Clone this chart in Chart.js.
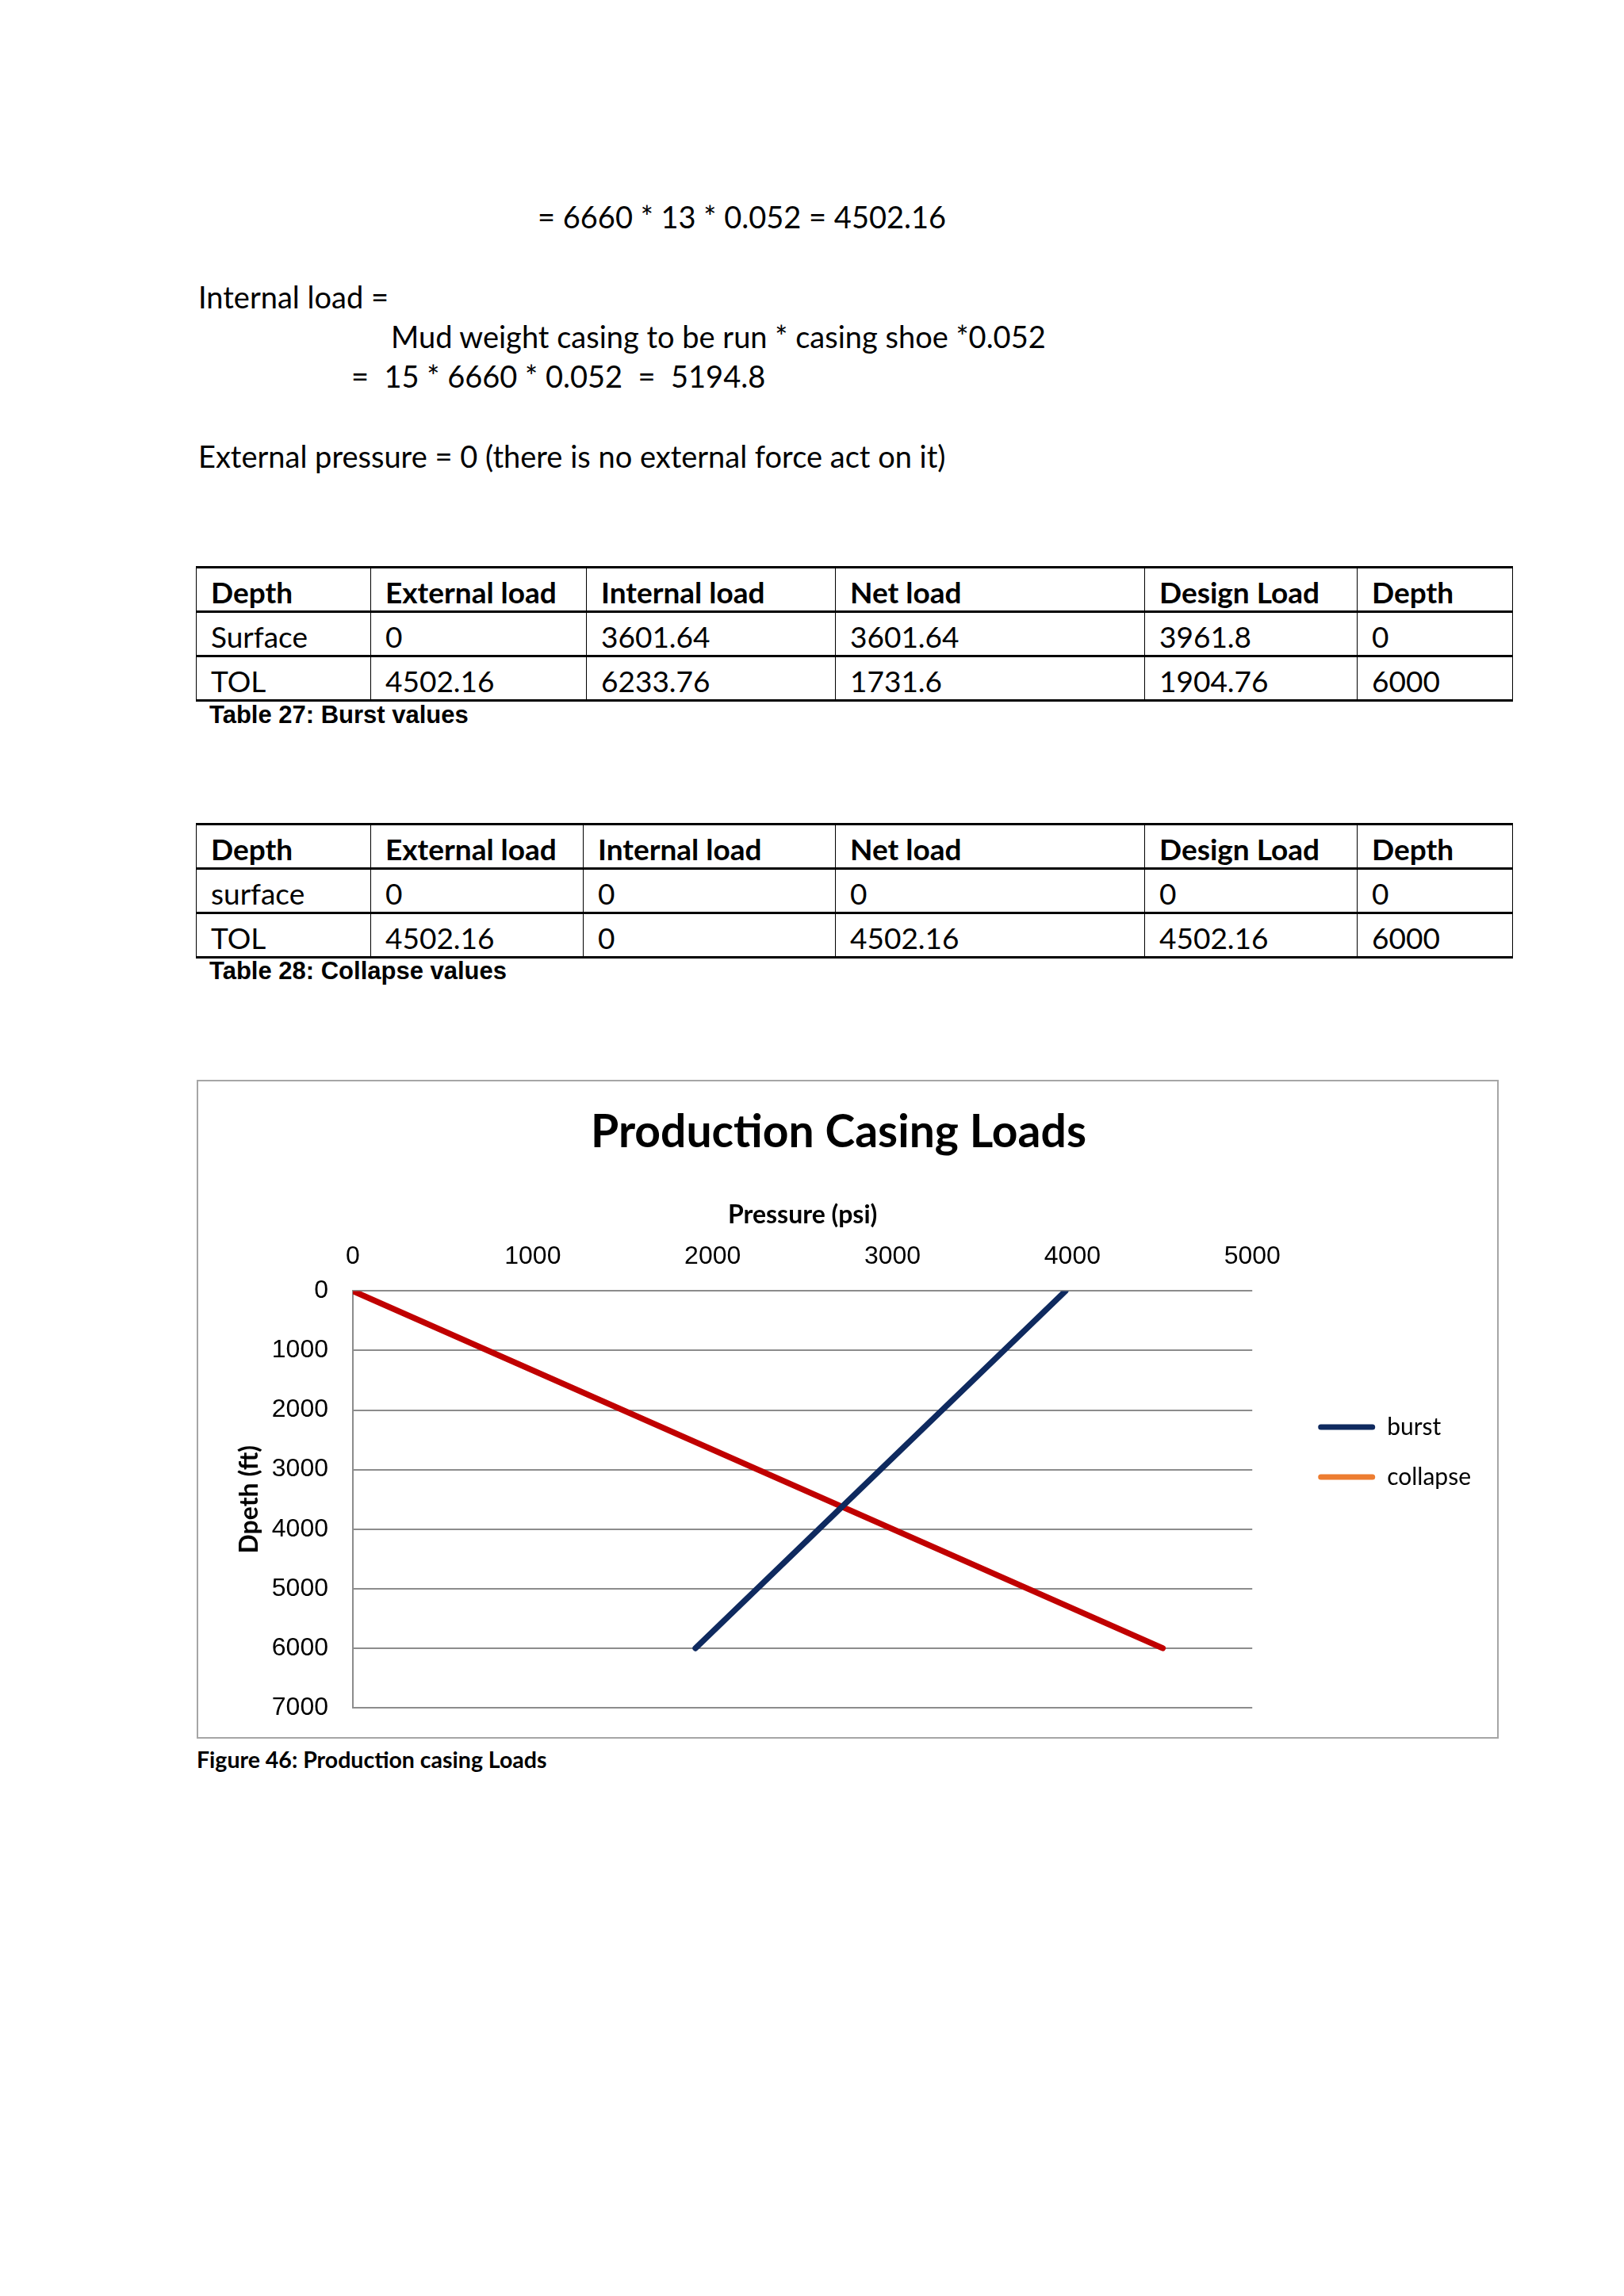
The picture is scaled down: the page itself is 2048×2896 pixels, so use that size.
<!DOCTYPE html>
<html>
<head>
<meta charset="utf-8">
<script src="https://cdn.jsdelivr.net/npm/chart.js@4/dist/chart.umd.min.js"></script>
<style>
  html, body { margin:0; padding:0; background:#fff; }
  body { width:2048px; height:2896px; position:relative; font-family:Lato, "Open Sans", sans-serif; color:#000; }
  .txt { position:absolute; font-size:38px; line-height:38px; white-space:pre; }
  table.t { position:absolute; left:247px; border-collapse:collapse; table-layout:fixed; width:1660px; font-size:37px; }
  table.t td { border-left:1.5px solid #000; border-right:1.5px solid #000; border-top:3px solid #000; border-bottom:3px solid #000;
               box-sizing:border-box; height:56px; padding:0 0 5px 18px; vertical-align:bottom; line-height:37px; white-space:nowrap; overflow:hidden; }
  table.t tr.hd td { font-weight:bold; }
  .cap { position:absolute; left:264px; font-family:"Liberation Sans", Arial, sans-serif; font-weight:bold; font-size:31px; line-height:31px; white-space:pre; }
  .box { position:absolute; left:248px; top:1362px; width:1638px; height:827px; border:2px solid #a6a6a6; }
  .fig { position:absolute; left:248px; top:2205px; font-weight:bold; font-size:28.5px; line-height:28.5px; white-space:pre; }
</style>
</head>
<body>
<div class="txt" style="left:678px; top:254px;">= 6660 * 13 * 0.052 = 4502.16</div>
<div class="txt" style="left:250px; top:355px;">Internal load =</div>
<div class="txt" style="left:493px; top:405px;">Mud weight casing to be run * casing shoe *0.052</div>
<div class="txt" style="left:443px; top:455px;">=  15 * 6660 * 0.052  =  5194.8</div>
<div class="txt" style="left:250px; top:556px;">External pressure = 0 (there is no external force act on it)</div>

<table class="t" id="t1" style="top:714px;"></table>
<div class="cap" style="top:886px;">Table 27: Burst values</div>
<table class="t" id="t2" style="top:1038px;"></table>
<div class="cap" style="top:1209px;">Table 28: Collapse values</div>

<div class="box"><canvas id="c"></canvas></div>
<div class="fig">Figure 46: Production casing Loads</div>

<script>
// ---- Table data ----
const tableHeaders = ["Depth", "External load", "Internal load", "Net load", "Design Load", "Depth"];
const burstRows = [
  ["Surface", "0", "3601.64", "3601.64", "3961.8", "0"],
  ["TOL", "4502.16", "6233.76", "1731.6", "1904.76", "6000"]
];
const collapseRows = [
  ["surface", "0", "0", "0", "0", "0"],
  ["TOL", "4502.16", "0", "4502.16", "4502.16", "6000"]
];
const burstColWidths = [220, 272, 314, 390, 268, 196];
const collapseColWidths = [220, 268, 318, 390, 268, 196];

// ---- Chart data ----
const chartTitle = "Production Casing Loads";
const xAxisTitle = "Pressure (psi)";
const yAxisTitle = "Dpeth (ft)";
const seriesNames = ["burst", "collapse"];
const burstPressure = [3961.8, 1904.76];
const burstDepth = [0, 6000];
const collapsePressure = [0, 4502.16];
const collapseDepth = [0, 6000];
const xTickValues = [0, 1000, 2000, 3000, 4000, 5000];
const yTickValues = [0, 1000, 2000, 3000, 4000, 5000, 6000, 7000];

function buildTable(id, widths, rows) {
  const t = document.getElementById(id);
  const cg = document.createElement('colgroup');
  widths.forEach(w => { const c = document.createElement('col'); c.style.width = w + 'px'; cg.appendChild(c); });
  t.appendChild(cg);
  const tb = document.createElement('tbody');
  [tableHeaders, ...rows].forEach((r, ri) => {
    const tr = document.createElement('tr');
    if (ri === 0) tr.className = 'hd';
    r.forEach(v => { const td = document.createElement('td'); td.textContent = v; tr.appendChild(td); });
    tb.appendChild(tr);
  });
  t.appendChild(tb);
}
buildTable('t1', burstColWidths, burstRows);
buildTable('t2', collapseColWidths, collapseRows);

const lineColors = ['#0f2a5f', '#c00000'];
const legendColors = ['#0f2a5f', '#ed7d31'];
const toPts = (xs, ys) => xs.map((x, i) => ({x: x, y: ys[i]}));
const plain = (v) => String(v);

Chart.defaults.color = '#000';
new Chart(document.getElementById('c'), {
  type: 'scatter',
  data: {
    datasets: [
      { label: seriesNames[0], data: toPts(burstPressure, burstDepth), showLine: true, borderColor: lineColors[0],
        backgroundColor: lineColors[0], borderWidth: 7.5, pointRadius: 0, borderCapStyle: 'round', xAxisID: 'x', yAxisID: 'y' },
      { label: seriesNames[1], data: toPts(collapsePressure, collapseDepth), showLine: true, borderColor: lineColors[1],
        backgroundColor: lineColors[1], borderWidth: 7.5, pointRadius: 0, borderCapStyle: 'round', xAxisID: 'x', yAxisID: 'y' }
    ]
  },
  options: {
    responsive: true, maintainAspectRatio: false, devicePixelRatio: 1, animation: false,
    layout: { padding: { left: 0, top: 0, bottom: 0, right: 23 } },
    plugins: {
      title: { display: true, text: chartTitle, color: '#000',
               font: { family: 'Lato', size: 57, weight: 'bold' }, padding: { top: 30, bottom: 7 } },
      legend: { display: true, position: 'right',
        title: { display: true, text: ' ', font: { family: 'Lato', size: 10 }, padding: { top: 96, bottom: 0 } },
        labels: { boxWidth: 72, boxHeight: 7, padding: 33, color: '#000', font: { family: 'Lato', size: 30 },
          generateLabels: (chart) => chart.data.datasets.map((ds, i) => ({
            text: ds.label, fillStyle: legendColors[i], strokeStyle: legendColors[i], lineWidth: 0,
            borderRadius: 3.5, datasetIndex: i, hidden: false })) } },
      tooltip: { enabled: false }
    },
    scales: {
      x: { type: 'linear', position: 'top', min: xTickValues[0], max: xTickValues[xTickValues.length - 1],
           afterBuildTicks: (s) => { s.ticks = xTickValues.map(v => ({value: v})); },
           grid: { display: false }, border: { display: false },
           ticks: { padding: 16, font: { family: 'Liberation Sans', size: 32 }, color: '#000', maxRotation: 0, callback: plain },
           title: { display: true, text: xAxisTitle, font: { family: 'Lato', size: 32, weight: 'bold' }, padding: { top: 44, bottom: 0 }, color: '#000' },
           afterFit: (s) => { s.height = 159; } },
      y: { type: 'linear', position: 'left', reverse: true, min: yTickValues[0], max: yTickValues[yTickValues.length - 1],
           afterBuildTicks: (s) => { s.ticks = yTickValues.map(v => ({value: v})); },
           grid: { color: '#8c8c8c', lineWidth: 2, drawTicks: true, tickLength: 31, tickColor: 'rgba(0,0,0,0)' },
           border: { display: true, color: '#8c8c8c', width: 2 },
           ticks: { padding: 0, font: { family: 'Liberation Sans', size: 32 }, color: '#000', callback: plain },
           title: { display: true, text: yAxisTitle, font: { family: 'Lato', size: 32, weight: 'bold' }, padding: { top: 45, bottom: 0 }, color: '#000' },
           afterFit: (s) => { s.width = 195; } },
      padR: { type: 'linear', position: 'right', display: true, grid: { display: false }, border: { display: false },
              ticks: { display: false }, afterFit: (s) => { s.width = 50; } },
      padB: { type: 'linear', position: 'bottom', display: true, grid: { display: false }, border: { display: false },
              ticks: { display: false }, afterFit: (s) => { s.height = 37; } }
    }
  }
});
</script>
</body>
</html>
